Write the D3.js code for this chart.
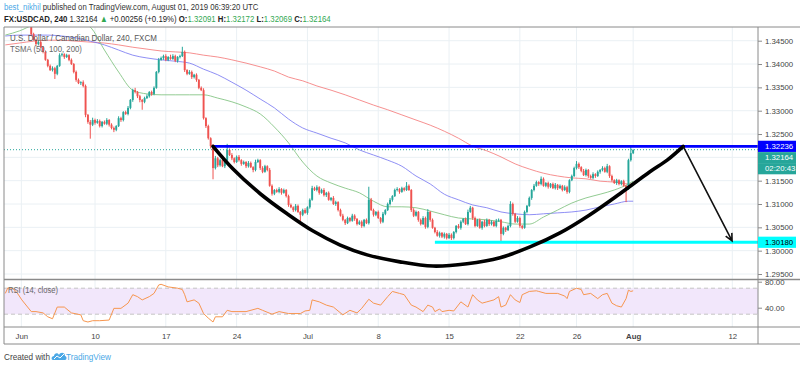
<!DOCTYPE html>
<html><head><meta charset="utf-8">
<script src="https://cdn.jsdelivr.net/npm/d3@7"></script>
<style>body{margin:0;background:#fff}svg{display:block}text{font-family:"Liberation Sans",Arial,sans-serif}</style>
</head><body><svg id="c" width="800" height="368"></svg>
<script>
// ---------------- DATA ----------------
const firstBarDay = -4/3;            // trading-day index of first 4h bar (Jun 3 = 0)
const open0 = 1.3502;
const closes = [
1.3510,1.3518,1.3505,1.3512,1.3522,1.3515,1.3500,1.3508,1.3496,1.3490,1.3484,
1.3464,1.3452,1.3443,1.3447,1.3436,1.3426,1.3409,1.3396,1.3387,1.3391,
1.3379,1.3396,1.3419,1.3421,1.3415,1.3419,1.3409,1.3400,1.3383,1.3366,
1.3359,1.3361,1.3353,1.3291,1.3276,1.3270,1.3280,1.3274,1.3278,1.3267,
1.3276,1.3272,1.3280,1.3270,1.3263,1.3259,1.3267,1.3284,1.3280,1.3297,
1.3293,1.3306,1.3323,1.3344,1.3340,1.3331,1.3323,1.3319,1.3327,1.3331,
1.3340,1.3336,1.3349,1.3383,1.3409,1.3413,1.3417,1.3409,1.3415,1.3411,
1.3417,1.3407,1.3415,1.3417,1.3426,1.3387,1.3379,1.3383,1.3372,1.3377,
1.3366,1.3349,1.3344,1.3284,1.3267,1.3241,1.3224,1.3177,1.3198,1.3183,
1.3194,1.3181,1.3194,1.3216,1.3205,1.3198,1.3190,1.3201,1.3194,1.3186,
1.3190,1.3181,1.3188,1.3179,1.3173,1.3190,1.3194,1.3177,1.3169,1.3181,
1.3173,1.3139,1.3122,1.3130,1.3126,1.3132,1.3124,1.3130,1.3117,1.3098,
1.3093,1.3087,1.3096,1.3083,1.3077,1.3087,1.3081,1.3093,1.3109,1.3134,
1.3130,1.3136,1.3124,1.3130,1.3119,1.3124,1.3109,1.3113,1.3100,1.3104,
1.3087,1.3075,1.3066,1.3059,1.3070,1.3064,1.3075,1.3068,1.3057,1.3062,
1.3053,1.3066,1.3059,1.3109,1.3087,1.3077,1.3083,1.3070,1.3062,1.3079,
1.3087,1.3100,1.3109,1.3117,1.3130,1.3132,1.3126,1.3134,1.3130,1.3139,
1.3130,1.3087,1.3075,1.3083,1.3066,1.3057,1.3070,1.3051,1.3083,1.3066,
1.3049,1.3040,1.3032,1.3038,1.3030,1.3036,1.3027,1.3034,1.3027,1.3040,
1.3053,1.3049,1.3062,1.3068,1.3057,1.3083,1.3092,1.3070,1.3053,1.3066,
1.3049,1.3062,1.3053,1.3066,1.3057,1.3062,1.3053,1.3064,1.3066,1.3036,
1.3049,1.3044,1.3053,1.3100,1.3079,1.3062,1.3070,1.3053,1.3049,1.3083,
1.3096,1.3113,1.3130,1.3139,1.3147,1.3143,1.3154,1.3139,1.3145,1.3137,
1.3143,1.3134,1.3141,1.3134,1.3139,1.3130,1.3136,1.3126,1.3151,1.3160,
1.3177,1.3186,1.3179,1.3171,1.3162,1.3173,1.3160,1.3156,1.3164,1.3160,
1.3169,1.3173,1.3177,1.3169,1.3181,1.3160,1.3151,1.3145,1.3151,1.3143,
1.3149,1.3139,1.3132,1.3194,1.3209,1.3216];
// wick lengths beyond the body, in pips
const upWick = [
4,3,5,3,4,3,5,3,3,4,3,
2,3,2,4,3,2,3,2,3,4, 3,2,4,3,2,3,2,3,2,3, 3,2,4,3,2,4,5,3,4,3, 2,3,4,2,3,3,2,4,3,2,
3,4,2,3,5,2,3,2,3,4, 2,3,3,2,4,3,3,4,2,5, 4,3,2,3,11,3,2,4,3,2, 3,2,3,4,2,3,2,4,5,3,
3,4,2,13,3,4,2,3,4,2, 3,2,4,3,2,5,3,2,4,3, 2,4,3,2,3,4,2,3,2,3, 3,2,4,3,2,3,4,2,3,5,
3,4,2,3,4,2,3,2,4,3, 2,3,4,2,3,2,4,3,2,3, 3,2,3,28,4,3,2,3,2,4, 2,3,4,2,3,4,2,3,2,8,
3,2,4,3,2,3,4,3,6,2, 3,2,4,3,2,3,2,4,3,2, 2,4,3,2,3,5,4,2,3,2, 3,2,4,3,2,3,2,4,3,2,
3,2,3,6,3,2,4,3,2,3, 2,3,2,4,3,2,5,3,2,3, 2,3,4,2,3,2,4,3,2,3, 3,6,3,2,4,3,2,3,4,2,
3,2,4,3,5,2,3,2,3,2, 2,3,2,3,15,1];
const dnWick = [
3,4,3,4,3,4,3,4,3,3,4,
3,2,4,3,2,3,2,3,2,3, 11,3,2,3,4,2,3,2,3,4, 2,4,3,5,4,30,3,4,2,3, 3,2,3,4,3,5,3,2,4,3,
2,3,3,4,3,4,5,17,3,2, 3,4,3,2,3,2,4,3,3,2, 2,3,4,3,2,4,3,2,4,3, 4,3,2,3,4,3,5,24,3,4,
3,2,4,3,2,4,3,2,3,4, 2,4,3,2,5,3,2,4,3,2, 3,2,4,3,2,3,4,2,3,4, 2,4,3,2,15,3,2,4,3,2,
2,3,4,2,3,4,2,3,2,4, 3,2,3,4,2,3,2,4,3,2, 4,3,2,3,2,4,3,2,4,3, 3,2,3,4,2,3,4,2,3,2,
2,4,3,2,4,3,2,4,3,4, 2,3,2,4,3,4,3,2,4,3, 3,2,4,3,2,3,2,4,3,2, 2,4,3,2,4,3,2,3,2,17,
3,4,2,3,4,3,2,4,3,2, 3,2,4,3,2,4,3,2,3,4, 3,2,3,4,2,3,2,4,3,2, 2,3,4,3,2,3,4,2,3,4,
2,4,3,2,3,4,3,2,4,3, 3,2,28,2,3,2];

const maBars = [0,6,12,18,24,30,36,42,48,54,60,66,72,78,84,90,96,102,108,114,120,126,132,138,144,150,156,162,168,174,180,186,192,198,204,210,216,222,228,234,240,246,252,258,264,266];
const sma50 = [1.3462,1.3471,1.3484,1.3490,1.3494,1.3492,1.3479,1.3430,1.3383,1.3344,1.3336,1.3334,1.3334,1.3334,1.3334,1.3327,1.3319,1.3308,1.3293,1.3265,1.3231,1.3190,1.3160,1.3145,1.3134,1.3124,1.3106,1.3094,1.3094,1.3092,1.3085,1.3077,1.3070,1.3068,1.3066,1.3062,1.3057,1.3057,1.3072,1.3087,1.3102,1.3113,1.3121,1.3130,1.3143,1.3149];
const sma100 = [1.3460,1.3462,1.3462,1.3462,1.3460,1.3456,1.3449,1.3441,1.3430,1.3419,1.3413,1.3409,1.3406,1.3402,1.3389,1.3377,1.3361,1.3344,1.3325,1.3306,1.3282,1.3263,1.3252,1.3241,1.3231,1.3216,1.3205,1.3194,1.3181,1.3160,1.3143,1.3121,1.3109,1.3098,1.3092,1.3083,1.3079,1.3077,1.3079,1.3081,1.3083,1.3087,1.3094,1.3100,1.3106,1.3106];
const sma200 = [1.3441,1.3445,1.3449,1.3451,1.3451,1.3449,1.3447,1.3445,1.3441,1.3436,1.3432,1.3428,1.3426,1.3424,1.3419,1.3415,1.3409,1.3402,1.3394,1.3385,1.3372,1.3364,1.3353,1.3344,1.3334,1.3323,1.3312,1.3302,1.3291,1.3280,1.3269,1.3256,1.3241,1.3224,1.3214,1.3201,1.3186,1.3175,1.3166,1.3160,1.3156,1.3154,1.3149,1.3147,1.3143,1.3143];

const rsiBars = [0,1,3,5,7,11,13,16,18,20,22,25,28,32,33,35,37,40,44,46,49,52,54,56,58,61,63,65,66,69,73,75,76,77,80,82,84,86,88,89,92,94,96,99,102,107,109,113,116,120,125,127,129,130,133,136,139,143,146,149,151,154,156,159,162,164,167,169,172,174,177,179,181,182,184,185,188,190,193,196,198,200,202,204,207,209,210,212,214,216,218,219,222,225,226,229,234,237,238,239,242,244,245,248,251,253,255,257,259,261,263,264,265,266];
const rsiValues = [62,70,70,63,52,34,34,32,26,23,41,41,32,29,20,18,20,20,21,39,39,47,60,57,52,57,62,75,76,72,70,68,60,49,52,47,31,24,18,26,26,36,34,34,34,39,36,30,34,31,31,35,36,52,49,44,41,29,36,32,39,53,47,44,57,65,62,60,44,41,34,44,41,34,38,34,36,35,49,41,60,52,47,49,52,57,41,44,60,52,48,60,65,66,65,62,62,58,54,65,70,68,60,62,54,60,62,47,43,41,54,67,65,66];

const priceTicks = [1.295,1.300,1.305,1.310,1.315,1.320,1.325,1.330,1.335,1.340,1.345];
const priceLabelTicks = [1.295,1.300,1.305,1.310,1.315,1.325,1.330,1.335,1.340,1.345];
const rsiTicks = [40,80];
const timeTickDays = [-0.2,5,10,15,20,25,30,35,39,43,50];
const timeTickLabels = ["Jun","10","17","24","Jul","8","15","22","26","Aug","12"];
const resistance = 1.32236, support = 1.30180, lastPrice = 1.32164, countdown = "02:20:43";
const resistanceStartBar = 88, supportStartBar = 182;
// cup drawing: [bar index, price]
const cupArc = [[88,1.32236],[96.5,1.3175],[108,1.3122],[119.4,1.3079],[130.4,1.3042],[141.9,1.3012],[153.3,1.2991],[167.2,1.2976],[181.2,1.2967],[195.6,1.2972],[209.6,1.2985],[222.3,1.3008],[235,1.3038],[247.7,1.3077],[260.4,1.3122],[273.1,1.3169],[280.4,1.3194],[287.2,1.32236]];
const arrowPath = [[287.2,1.32236],[307.9,1.3021]];

// ---------------- LAYOUT ----------------
const svg = d3.select("#c");
const L = 4, R = 758, mainT = 27, mainB = 279, rsiT = 280, rsiB = 327, axB = 344;
const xDay = d3.scaleLinear().domain([5,50]).range([95,732.3]);
const bx = k => xDay(firstBarDay + k/6);
const y = d3.scaleLinear().domain([1.295,1.345]).range([274,40.7]);
const yR = d3.scaleLinear().domain([40,80]).range([307.7,281.7]);
const grid = "#eaf0f4", frame = "#8a8a8a", up = "#26a69a", dn = "#ef5350";

const defs = svg.append("defs");
defs.append("clipPath").attr("id","cm").append("rect").attr("x",L).attr("y",mainT).attr("width",R-L).attr("height",mainB-mainT);
defs.append("clipPath").attr("id","cr").append("rect").attr("x",L).attr("y",rsiT).attr("width",R-L).attr("height",rsiB-rsiT);

// grid
const g = svg.append("g");
g.selectAll(".vg").data(timeTickDays).join("line").attr("x1",d=>xDay(d)).attr("x2",d=>xDay(d)).attr("y1",mainT).attr("y2",rsiB).attr("stroke",grid);
g.selectAll(".hg").data(priceTicks).join("line").attr("x1",L).attr("x2",R).attr("y1",d=>y(d)).attr("y2",d=>y(d)).attr("stroke",grid);
g.selectAll(".rg").data([40]).join("line").attr("x1",L).attr("x2",R).attr("y1",d=>yR(d)).attr("y2",d=>yR(d)).attr("stroke",grid);

// main pane
const m = svg.append("g").attr("clip-path","url(#cm)");
const maLine = arr => d3.line().x((d,i)=>bx(maBars[i])).y(d=>y(d)).curve(d3.curveMonotoneX)(arr);
m.append("path").attr("d",maLine(sma200)).attr("fill","none").attr("stroke","#f47c7c").attr("stroke-width",1).attr("opacity",0.85);
m.append("path").attr("d",maLine(sma100)).attr("fill","none").attr("stroke","#7b7bf2").attr("stroke-width",1).attr("opacity",0.85);
m.append("path").attr("d",maLine(sma50)).attr("fill","none").attr("stroke","#7fc27f").attr("stroke-width",1).attr("opacity",0.85);

const bars = closes.map((c,k)=>{const o = k===0?open0:closes[k-1];
  return {k,o,c,h:Math.max(o,c)+upWick[k]*0.0001,l:Math.min(o,c)-dnWick[k]*0.0001};});
const cg = m.append("g");
cg.selectAll("line").data(bars).join("line").attr("x1",d=>bx(d.k)).attr("x2",d=>bx(d.k))
  .attr("y1",d=>y(d.h)).attr("y2",d=>y(d.l)).attr("stroke",d=>d.c>=d.o?up:dn).attr("stroke-width",1);
cg.selectAll("rect").data(bars).join("rect").attr("x",d=>bx(d.k)-0.95).attr("width",1.9)
  .attr("y",d=>y(Math.max(d.o,d.c))).attr("height",d=>Math.max(0.9,Math.abs(y(d.o)-y(d.c))))
  .attr("fill",d=>d.c>=d.o?up:dn);

// current price dotted line
m.append("line").attr("x1",L).attr("x2",R).attr("y1",y(lastPrice)).attr("y2",y(lastPrice)).attr("stroke",up).attr("stroke-dasharray","1,2");
// horizontal rays
m.append("line").attr("x1",bx(resistanceStartBar)).attr("x2",R).attr("y1",y(resistance)).attr("y2",y(resistance)).attr("stroke","#0000ff").attr("stroke-width",2.8);
m.append("line").attr("x1",bx(supportStartBar)).attr("x2",R).attr("y1",y(support)).attr("y2",y(support)).attr("stroke","#00ffff").attr("stroke-width",2.8);
// cup arc
m.append("path").attr("d",d3.line().x(d=>bx(d[0])).y(d=>y(d[1])).curve(d3.curveCatmullRom.alpha(0.5))(cupArc))
  .attr("fill","none").attr("stroke","#000").attr("stroke-width",3.6).attr("stroke-linecap","round");
// arrow
const a0=[bx(arrowPath[0][0]),y(arrowPath[0][1])], a1=[bx(arrowPath[1][0]),y(arrowPath[1][1])];
const ang=Math.atan2(a1[1]-a0[1],a1[0]-a0[0]), hl=8, ha=0.45;
m.append("path").attr("d",`M${a0}L${a1}M${a1[0]-hl*Math.cos(ang-ha)},${a1[1]-hl*Math.sin(ang-ha)}L${a1}L${a1[0]-hl*Math.cos(ang+ha)},${a1[1]-hl*Math.sin(ang+ha)}`)
  .attr("fill","none").attr("stroke","#111").attr("stroke-width",1.6);

// RSI pane
const r = svg.append("g").attr("clip-path","url(#cr)");
r.append("rect").attr("x",L).attr("width",R-L).attr("y",yR(70)).attr("height",yR(30)-yR(70)).attr("fill","#f2e7fb");
[70,30].forEach(v=>r.append("line").attr("x1",L).attr("x2",R).attr("y1",yR(v)).attr("y2",yR(v)).attr("stroke","#c4c4c4").attr("stroke-dasharray","4,3"));
r.append("path").attr("d",d3.line().x((d,i)=>bx(rsiBars[i])).y(d=>yR(d))(rsiValues)).attr("fill","none").attr("stroke","#f7964f").attr("stroke-width",1);

// frame
const f = svg.append("g").attr("stroke",frame).attr("fill","none");
f.append("line").attr("x1",L).attr("x2",800).attr("y1",mainT).attr("y2",mainT);
f.append("line").attr("x1",L).attr("x2",L).attr("y1",mainT).attr("y2",axB);
f.append("line").attr("x1",R).attr("x2",R).attr("y1",mainT).attr("y2",axB);
f.append("line").attr("x1",L).attr("x2",800).attr("y1",mainB+0.5).attr("y2",mainB+0.5).attr("stroke-width",1.5);
f.append("line").attr("x1",L).attr("x2",800).attr("y1",rsiB).attr("y2",rsiB);
f.append("line").attr("x1",L).attr("x2",800).attr("y1",axB).attr("y2",axB);

// price axis
const pa = svg.append("g").attr("transform",`translate(${R},0)`)
  .call(d3.axisRight(y).tickValues(priceLabelTicks).tickSize(4).tickPadding(3).tickFormat(d3.format(".5f")));
pa.select(".domain").remove();
pa.selectAll("line").attr("stroke",frame);
pa.selectAll("text").attr("fill","#444").style("font-size","7.8px").style("font-family","Liberation Sans, Arial, sans-serif");
const ra = svg.append("g").attr("transform",`translate(${R},0)`)
  .call(d3.axisRight(yR).tickValues(rsiTicks).tickSize(4).tickPadding(3).tickFormat(d3.format(".2f")));
ra.select(".domain").remove();
ra.selectAll("line").attr("stroke",frame);
ra.selectAll("text").attr("fill","#444").style("font-size","7.8px").style("font-family","Liberation Sans, Arial, sans-serif");

// time axis
const ta = svg.append("g").attr("transform",`translate(0,${rsiB})`)
  .call(d3.axisBottom(xDay).tickValues(timeTickDays).tickSize(0).tickPadding(6).tickFormat((d,i)=>timeTickLabels[i]));
ta.select(".domain").remove();
ta.selectAll("text").attr("fill","#444").style("font-size","7.8px").style("font-family","Liberation Sans, Arial, sans-serif")
  .style("font-weight",(d,i)=>timeTickLabels[i]==="Aug"?"bold":"normal");

// axis value boxes
function box(yc,fill,txt,col){
  svg.append("rect").attr("x",R).attr("y",yc-5.6).attr("width",38).attr("height",11.2).attr("fill",fill);
  svg.append("text").attr("x",R+7).attr("y",yc+2.8).attr("fill",col).style("font-size","7.8px").text(txt);
}
box(y(resistance),"#0000ff",d3.format(".5f")(resistance),"#fff");
box(y(lastPrice)+8,"#26a69a",d3.format(".5f")(lastPrice),"#fff");
box(y(lastPrice)+19,"#26a69a",countdown,"#fff");
box(y(support),"#00ffff",d3.format(".5f")(support),"#000");

// texts with horizontal fit
function fitText(x,yb,w,size,parts){
  const t = svg.append("text").attr("x",0).attr("y",0).style("font-size",size+"px");
  parts.forEach(p=>t.append("tspan").text(p.t).attr("fill",p.c||"#333").style("font-weight",p.b?"bold":"normal"));
  const len = t.node().getComputedTextLength();
  t.attr("transform",`translate(${x},${yb}) scale(${w/len},1)`);
}
const G = "#32a852";
fitText(4,10,255,9.5,[{t:"best_nikhil",c:"#4aa8e6"},{t:" published on TradingView.com, August 01, 2019 06:39:20 UTC",c:"#333"}]);
fitText(4,22,327,9.5,[{t:"FX:USDCAD, 240 ",b:1,c:"#222"},{t:"1.32164 ",c:"#222"},{t:"▲",c:G},{t:" +0.00256 (+0.19%) ",c:"#222"},
  {t:"O:",b:1,c:"#222"},{t:"1.32091 ",c:G},{t:"H:",b:1,c:"#222"},{t:"1.32172 ",c:G},{t:"L:",b:1,c:"#222"},{t:"1.32069 ",c:G},{t:"C:",b:1,c:"#222"},{t:"1.32164",c:G}]);
fitText(10,41,147,9.5,[{t:"U.S. Dollar / Canadian Dollar, 240, FXCM",c:"#555"}]);
fitText(10,52,72,9.5,[{t:"TSMA (50, 100, 200)",c:"#666"}]);
fitText(8,293,50,9,[{t:"RSI (14, close)",c:"#666"}]);
fitText(4,360,46,9,[{t:"Created with",c:"#444"}]);
fitText(66,360,45,9,[{t:"TradingView",c:"#4aa8e6"}]);
// logo (cloud)
const lg = svg.append("g").attr("transform","translate(52,351)");
lg.append("path").attr("d","M1,9 C-1,9 -1,5 2,5 C2,2 6,1 7,4 C8,1 13,1 13,5 C15,5 15,9 13,9 Z").attr("fill","#4aa8e6");
lg.append("path").attr("d","M2,8 L5,5 L8,7 L12,3").attr("fill","none").attr("stroke","#fff").attr("stroke-width",1);
</script></body></html>
